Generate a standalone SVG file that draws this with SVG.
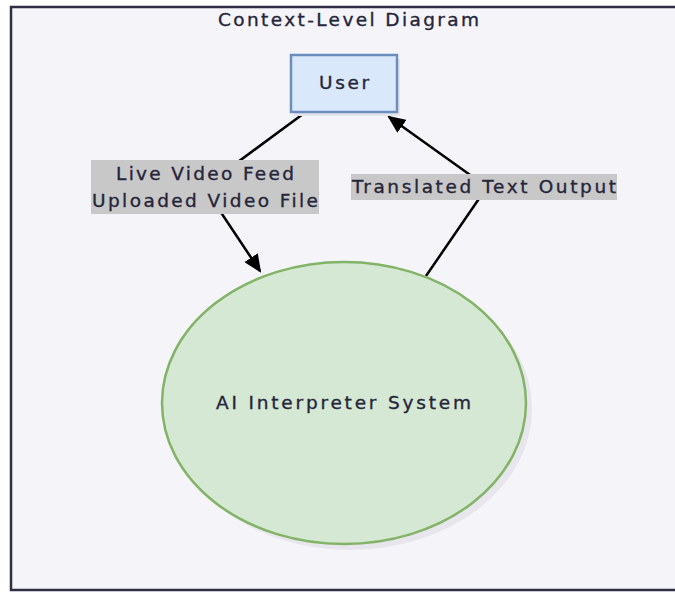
<svg xmlns="http://www.w3.org/2000/svg" width="675" height="592" viewBox="0 0 675 592">
<style>
text{font-family:"DejaVu Sans","Liberation Sans",sans-serif;fill:#25253a;stroke:#25253a;stroke-width:0.35;font-size:18.5px}
.lbl{fill:#c8c8c8}
.edge{stroke:#000;stroke-width:2.5;fill:none}
</style>
<defs>
<marker id="arr" markerWidth="18" markerHeight="16" refX="16" refY="8" orient="auto" markerUnits="userSpaceOnUse" viewBox="0 0 18 16">
<path d="M0,0 L18,8 L0,16 z" fill="#000"/>
</marker>
</defs>
<rect x="0" y="0" width="675" height="592" fill="#ffffff"/>
<g id="frame">
<rect x="11" y="7" width="680" height="583" fill="#f4f4f9" stroke="#2e2e44" stroke-width="2.5"/>
<text x="348.5" y="26" text-anchor="middle" textLength="261" lengthAdjust="spacing" font-size="18.5">Context-Level Diagram</text>
</g>
<g id="connectors">
<polyline class="edge" points="303,114 204,187 260,271" marker-end="url(#arr)"/>
<polyline class="edge" points="426,276 487,187 389,117" marker-end="url(#arr)"/>
<rect class="lbl" x="91" y="160" width="228" height="54"/>
<text x="205" y="180" text-anchor="middle" textLength="178" lengthAdjust="spacing">Live Video Feed</text>
<text x="205" y="207" text-anchor="middle" textLength="226" lengthAdjust="spacing">Uploaded Video File</text>
<rect class="lbl" x="351" y="174" width="266" height="26"/>
<text x="484" y="193" text-anchor="middle" textLength="264" lengthAdjust="spacing">Translated Text Output</text>
</g>
<g id="user">
<rect x="294" y="59" width="106" height="57" fill="#e4e4ea"/>
<rect x="291" y="55" width="106" height="57" fill="#dae8fc" stroke="#6c8ebf" stroke-width="2.5"/>
<text x="344" y="89" text-anchor="middle" textLength="50" lengthAdjust="spacing">User</text>
</g>
<g id="system">
<ellipse cx="350" cy="409" rx="182" ry="141" fill="#e6e6ec"/>
<ellipse cx="344" cy="403" rx="182" ry="141" fill="#d5e8d4" stroke="#82b366" stroke-width="2.5"/>
<text x="343.5" y="409" text-anchor="middle" textLength="255" lengthAdjust="spacing">AI Interpreter System</text>
</g>
</svg>
